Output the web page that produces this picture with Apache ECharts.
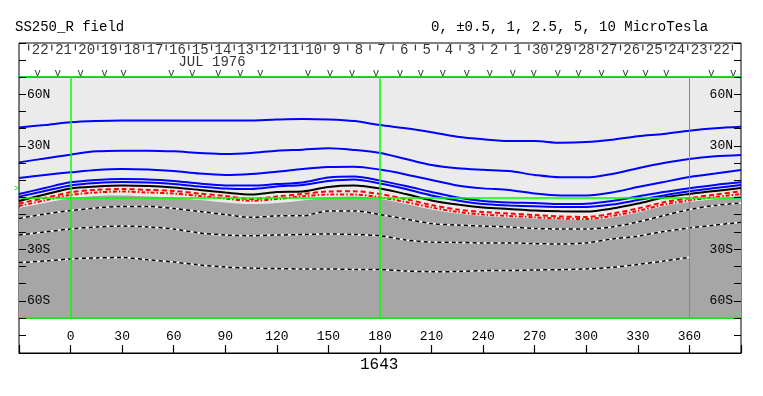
<!DOCTYPE html>
<html><head><meta charset="utf-8">
<script src="https://cdn.jsdelivr.net/npm/echarts@6/dist/echarts.min.js"></script>
<style>html,body{margin:0;padding:0;background:#fff}#c{width:763px;height:396px}</style>
</head><body><div id="c"></div>
<script>
// ---- data (longitude in degrees, latitude in degrees) ----
const lons = [-30,-15,0,15,30,45,60,75,90,105,120,135,150,165,180,195,210,225,240,255,270,285,300,315,330,345,360,375,390];
const blue1 = [40.7,42.1,43.7,44.4,44.7,44.7,44.7,44.7,44.7,44.8,45.3,45.6,45.3,44.4,42.1,40.2,37.9,35.3,33.8,32.8,32.8,31.8,32.2,33.6,35.6,36.9,38.8,40.2,41.1];
const blue2 = [20.4,22.7,24.9,26.8,27.2,27.2,26.8,25.9,25.3,25.9,27.2,27.8,28.6,27.6,25.9,22.4,18.9,17.0,16.1,15.4,13.1,11.7,11.7,13.7,17.0,20.0,22.4,23.9,24.7];
const blue3 = [11.3,13.1,14.6,16.0,16.6,16.3,15.4,13.9,13.1,13.7,15.0,16.6,17.7,17.9,16.2,13.4,10.2,7.0,5.3,4.4,2.3,1.2,1.2,2.9,6.1,9.0,11.9,13.9,16.0];
const blue4 = [2.0,5.5,8.8,10.2,10.7,10.5,9.6,8.1,7.0,6.9,7.8,8.7,11.6,12.2,9.8,6.7,3.2,0,-2.0,-2.9,-3.2,-3.8,-3.6,-2.0,0.6,3.2,5.4,7.3,8.8];
const blue5 = [0.5,3.8,7.0,8.4,9.0,8.7,7.8,6.4,5.2,4.9,6.4,7.3,9.6,10.5,8.1,4.9,1.2,-1.7,-3.8,-4.6,-5.1,-5.5,-5.5,-4.1,-1.5,1.2,3.6,5.5,7.3];
const black0 = [-2.0,1.7,5.2,6.4,7.0,6.7,5.8,4.4,2.9,1.7,3.2,3.5,6.1,6.9,5.2,2.0,-1.7,-4.1,-5.8,-6.7,-7.6,-8.0,-8.1,-6.4,-3.5,0,2.1,3.8,5.5];
const redDash = [-3.5,-0.3,3.0,4.4,4.9,4.4,3.8,2.3,0.9,-0.9,0.6,2.0,3.5,3.6,2.0,-0.9,-4.4,-7.0,-8.4,-9.3,-10.2,-11.0,-11.3,-9.3,-6.4,-2.8,-0.4,1.7,3.6];
const redDot = [-4.9,-1.7,1.5,2.9,3.5,2.9,2.3,0.9,-0.6,-1.9,-0.9,0.7,1.7,1.7,0.1,-2.6,-5.8,-8.4,-9.9,-10.7,-11.5,-12.2,-12.5,-10.7,-7.8,-4.1,-1.7,0.3,2.0];
const neutral = [-6.1,-3.2,-0.5,0.9,1.2,0.6,0,-1.5,-2.9,-3.8,-3.2,-1.7,0,0.6,-0.9,-3.8,-7.0,-9.3,-10.7,-11.6,-12.2,-12.8,-13.1,-11.6,-8.7,-4.9,-2.6,-0.9,1.2];
const dash1 = [-12.2,-9.6,-7.6,-6.1,-5.2,-5.2,-6.4,-8.1,-9.9,-11.5,-10.7,-10.6,-7.8,-7.8,-9.9,-12.5,-15.1,-16.0,-16.6,-17.1,-18.0,-18.3,-18.3,-17.1,-14.2,-10.5,-7.0,-4.6,-3.2];
const dash2 = [-21.8,-20.0,-18.3,-17.1,-16.6,-17.1,-18.3,-20.6,-21.8,-22.2,-21.8,-21.5,-21.2,-21.5,-22.2,-24.7,-25.9,-26.1,-26.4,-26.4,-26.8,-27.0,-26.4,-24.1,-22.4,-19.8,-17.7,-16.0,-14.4];
const dash3 = [-37.8,-36.9,-35.7,-35.1,-34.9,-36.2,-37.5,-39.2,-40.4,-41.0,-41.3,-41.5,-41.5,-41.8,-41.9,-42.7,-43.1,-43.0,-42.5,-42.4,-42.1,-41.9,-41.5,-40.6,-38.9,-36.9,-34.7,null,null];

const dayTicks = [-24.4,-10.9,2.8,15.9,29.0,42.5,55.6,68.8,82.0,95.2,108.4,121.6,134.8,148.0,161.2,174.2,187.6,200.6,213.6,226.6,239.8,253.2,266.6,279.9,293.5,306.6,319.9,332.9,346.2,359.0,372.4,385.0];
const dayLabels = [22,21,20,19,18,17,16,15,14,13,12,11,10,9,8,7,6,5,4,3,2,1,30,29,28,27,26,25,24,23,22];
const obsLons = [-19.2,-7.5,5.8,19.7,30.8,58.6,70.8,85.9,98.7,110.3,138.2,151.0,163.7,177.7,191.6,203.8,216.5,230.5,243.9,257.2,269.4,283.4,295.5,308.9,322.8,334.5,346.6,372.7,385.5];
const monthLabel = 'JUL 1976';
const monthLon = 82.3;
const latLabels = {60:'60N', 30:'30N', '-30':'30S', '-60':'60S'};
const lonTicks = [0,30,60,90,120,150,180,210,240,270,300,330,360];

// ---- chart ----
const FONT = 'Liberation Mono';
const pair = arr => lons.map((x, i) => [x, arr[i]]);
function ln(d, color, width, type, z) {
  return {type:'line', xAxisIndex:0, yAxisIndex:0, data:pair(d), smooth:0.3, symbol:'none',
    showSymbol:false, silent:true, z:z, lineStyle:{color:color, width:width, type:type}, connectNulls:false};
}
const G = '#00ff00';
const txtScatter = (data, fontSize) => ({type:'scatter', xAxisIndex:1, yAxisIndex:2, symbolSize:1, silent:true,
  itemStyle:{color:'transparent'}, data:data,
  label:{show:true, position:'inside', formatter:'{b}', color:'#000', fontFamily:FONT, fontSize:fontSize}});
const series = [
  {type:'line', xAxisIndex:0, yAxisIndex:0, data:pair(neutral), smooth:0.3, symbol:'none', silent:true, z:1,
    lineStyle:{width:0}, areaStyle:{color:'#a6a6a6', opacity:1, origin:'start'}},
  ln(dash1,'#ffffff',1.5,'solid',2), ln(dash1,'#000000',1.5,[4,3],3),
  ln(dash2,'#ffffff',1.5,'solid',2), ln(dash2,'#000000',1.5,[4,3],3),
  ln(dash3,'#ffffff',1.5,'solid',2), ln(dash3,'#000000',1.5,[4,3],3),
  ln(redDot,'#ff0000',2,[4,2,1.5,2],3),
  ln(redDash,'#ff0000',2,[5,3],3),
  ln(black0,'#000000',2,'solid',3),
  ln(blue5,'#0000ff',2,'solid',3),
  ln(blue4,'#0000ff',2,'solid',3),
  ln(blue3,'#0000ff',2,'solid',3),
  ln(blue2,'#0000ff',2,'solid',3),
  ln(blue1,'#0000ff',2,'solid',3),
  {type:'line', xAxisIndex:0, yAxisIndex:0, data:[], z:6, silent:true,
    markLine:{symbol:'none', silent:true, animation:false, label:{show:false},
      lineStyle:{color:G, width:1.5, type:'solid'},
      data:[{xAxis:0},{xAxis:180},{xAxis:360, lineStyle:{color:'#22cc22', width:1, type:'solid'}},
            {yAxis:0},{yAxis:70},{yAxis:-70}]}},
  // top band: day ticks
  {type:'scatter', xAxisIndex:1, yAxisIndex:2, symbol:'rect', symbolSize:[1.2,6], silent:true,
    itemStyle:{color:'#000'}, data:dayTicks.map(x => [x, 29.5])},
  txtScatter(dayLabels.map((t, i) => ({value:[(dayTicks[i] + dayTicks[i+1]) / 2, 27], name:String(t)})), 14),
  txtScatter([{value:[monthLon, 14.5], name:monthLabel}], 14),
  txtScatter(obsLons.map(x => ({value:[x, 3.5], name:'v'})), 11)
];

const latFmt = v => latLabels[String(v)] || '';
function latAxis(pos) {
  return {gridIndex:0, type:'value', min:-70, max:70, interval:10, position:pos, z:10,
    axisLine:{show:false, onZero:false}, splitLine:{show:false},
    axisTick:{show:true, inside:true, length:7, lineStyle:{color:'#000', width:1}},
    axisLabel:{inside:true, margin:8, color:'#000', fontFamily:FONT, fontSize:13, formatter:latFmt}};
}
function bandAxis(grid, pos, max, interval) {
  return {gridIndex:grid, type:'value', min:0, max:max, interval:interval, position:pos,
    axisLine:{show:false, onZero:false}, splitLine:{show:false}, axisLabel:{show:false},
    axisTick:{show:true, inside:true, length:7, lineStyle:{color:'#000', width:1}}};
}

const option = {
  animation:false,
  backgroundColor:'#ffffff',
  textStyle:{fontFamily:FONT},
  title:[
    {text:'SS250_R field', left:15, top:20, padding:0, textStyle:{fontFamily:FONT, fontSize:14, fontWeight:'normal', color:'#000'}},
    {text:'0, ±0.5, 1, 2.5, 5, 10 MicroTesla', left:431, top:20, padding:0, textStyle:{fontFamily:FONT, fontSize:14, fontWeight:'normal', color:'#000'}},
    {text:'1643', left:360, top:357, padding:0, textStyle:{fontFamily:FONT, fontSize:16, fontWeight:'normal', color:'#000'}}
  ],
  grid:[
    {left:19, top:77, width:722, height:241, show:true, backgroundColor:'#ebebeb', borderColor:'#000', borderWidth:1},
    {left:19, top:43, width:722, height:34, show:true, backgroundColor:'#fff', borderColor:'#000', borderWidth:1},
    {left:19, top:318, width:722, height:35, show:true, backgroundColor:'#fff', borderColor:'#000', borderWidth:1}
  ],
  xAxis:[
    // longitude axis of the map, drawn at the bottom of the frame (offset below the map area)
    {gridIndex:0, type:'value', min:-30, max:390, interval:30, position:'bottom', offset:35, z:20,
      axisLine:{show:true, onZero:false, lineStyle:{color:'#000', width:1}}, splitLine:{show:false},
      axisTick:{show:true, inside:true, length:8, lineStyle:{color:'#000', width:1.2}},
      axisLabel:{show:true, inside:true, margin:10, color:'#000', fontFamily:FONT, fontSize:13,
        formatter:v => lonTicks.indexOf(v) >= 0 ? String(v) : ''}},
    {gridIndex:1, type:'value', min:-30, max:390, show:false, axisLine:{onZero:false}},
    {gridIndex:2, type:'value', min:-30, max:390, show:false, axisLine:{onZero:false}}
  ],
  yAxis:[
    latAxis('left'), latAxis('right'),
    bandAxis(1,'left',34,17), bandAxis(1,'right',34,17),
    bandAxis(2,'left',35,17.5), bandAxis(2,'right',35,17.5)
  ],
  graphic:[{type:'text', left:14, top:184, silent:true, style:{text:'>', fill:'#00dd00', font:'9px "Liberation Mono"'}}],
  series:series
};
const chart = echarts.init(document.getElementById('c'));
chart.setOption(option);
</script></body></html>
